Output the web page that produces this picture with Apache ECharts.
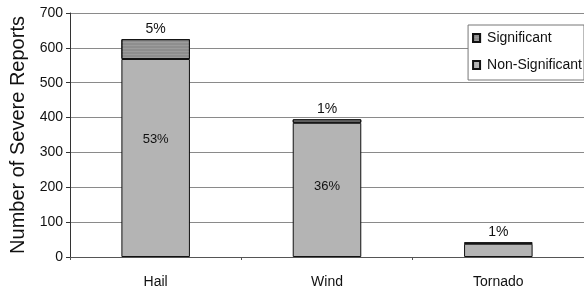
<!DOCTYPE html>
<html><head><meta charset="utf-8">
<script src="https://cdn.jsdelivr.net/npm/echarts@6/dist/echarts.min.js"></script>
<style>html,body{margin:0;padding:0;background:#fff}#c{width:584px;height:290px}</style>
</head><body><div id="c"></div>
<script>
var categories = ['Hail', 'Wind', 'Tornado'];
var nonSignificant = [568, 385, 38];
var significant = [57, 10, 4];
var nonSigLabels = ['53%', '36%', ''];
var sigLabels = ['5%', '1%', '1%'];
var yTicks = [0, 100, 200, 300, 400, 500, 600, 700];

var chart = echarts.init(document.getElementById('c'), null, {renderer: 'canvas'});
var font = 'Liberation Sans, Arial, sans-serif';
var labelOffsets = [[0, -19], [0, -3], [0, 0]];

chart.setOption({
  backgroundColor: '#fff',
  animation: false,
  grid: {left: 70, top: 13, width: 517, height: 244, containLabel: false},
  legend: {
    orient: 'vertical', right: 0, top: 25,
    data: ['Significant', 'Non-Significant'],
    itemWidth: 7, itemHeight: 8, itemGap: 13,
    icon: 'rect',
    padding: [6, 2, 8, 4],
    borderColor: '#777', borderWidth: 1, backgroundColor: '#fff',
    textStyle: {fontFamily: font, fontSize: 14, color: '#111', padding: [0, 0, 0, 2]}
  },
  xAxis: {
    type: 'category', data: categories,
    axisLine: {lineStyle: {color: '#555', width: 1}},
    axisTick: {show: true, length: 3, lineStyle: {color: '#555'}},
    axisLabel: {fontFamily: font, fontSize: 14, color: '#111', margin: 18}
  },
  yAxis: {
    type: 'value', min: 0, max: 700, interval: 100,
    name: 'Number of Severe Reports', nameLocation: 'middle', nameGap: 42, nameRotate: 90,
    nameTextStyle: {fontFamily: font, fontSize: 20, color: '#111'},
    axisLine: {show: true, lineStyle: {color: '#333', width: 1}},
    axisTick: {show: true, length: 4, lineStyle: {color: '#333'}},
    axisLabel: {fontFamily: font, fontSize: 14, color: '#111', margin: 7,
      formatter: function (v) { return yTicks.indexOf(v) >= 0 ? String(v) : ''; }},
    splitLine: {lineStyle: {color: '#8a8a8a', width: 1}}
  },
  series: [
    {
      name: 'Non-Significant', type: 'bar', stack: 's', barWidth: '40%',
      data: nonSignificant.map(function (v, i) {
        return {value: v, label: {offset: labelOffsets[i]}};
      }),
      itemStyle: {color: '#b4b4b4', borderColor: '#111', borderWidth: 1},
      label: {show: true, position: 'inside', fontFamily: font, fontSize: 13, color: '#111',
        formatter: function (p) { return nonSigLabels[p.dataIndex]; }}
    },
    {
      name: 'Significant', type: 'bar', stack: 's', barWidth: '40%',
      data: significant,
      itemStyle: {color: '#8e8e8e', borderColor: '#111', borderWidth: 1,
        decal: {symbol: 'rect', symbolSize: 1, dashArrayX: [[1, 0]], dashArrayY: [1, 2],
          rotation: 0, color: 'rgba(255,255,255,0.12)'}},
      label: {show: true, position: 'top', distance: 3, fontFamily: font, fontSize: 14, color: '#111',
        formatter: function (p) { return sigLabels[p.dataIndex]; }}
    }
  ]
});
</script></body></html>
